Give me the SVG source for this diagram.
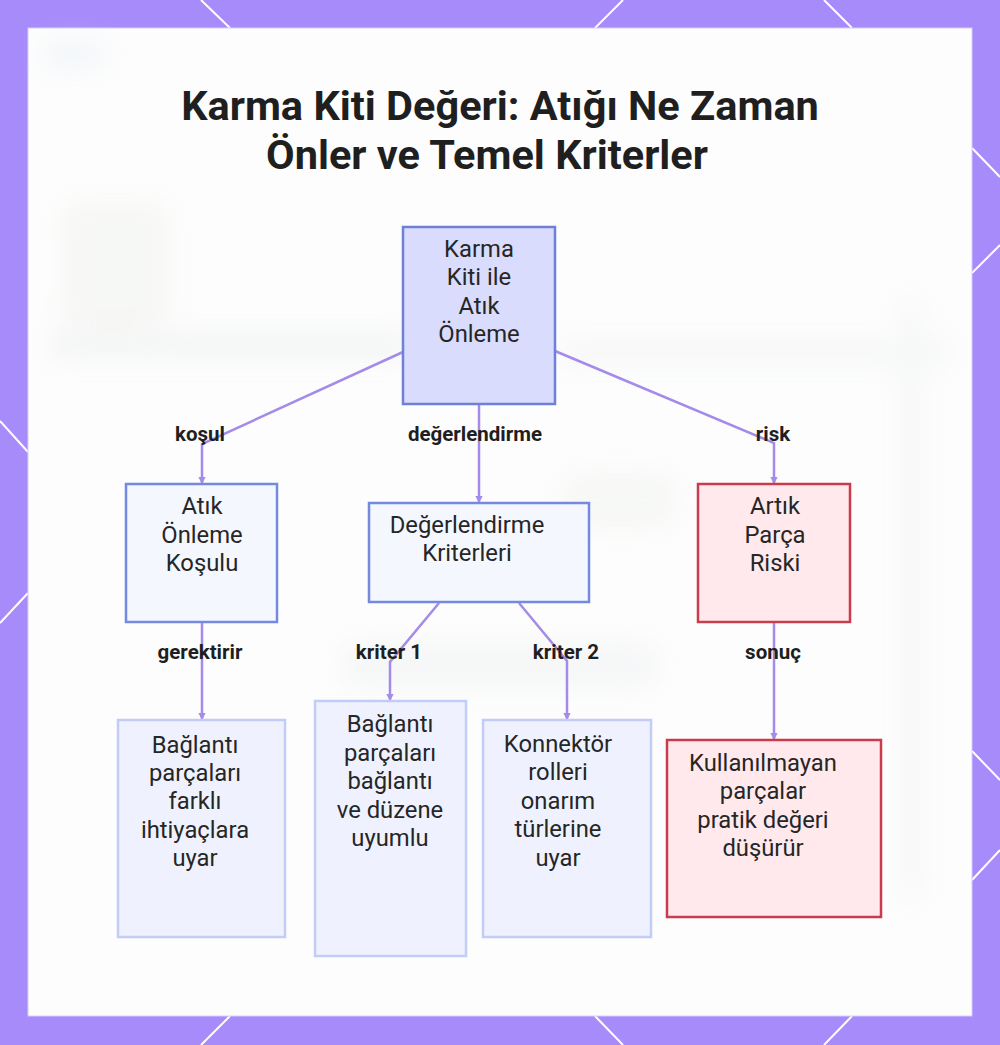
<svg xmlns="http://www.w3.org/2000/svg" width="1000" height="1045" viewBox="0 0 1000 1045">
  <defs>
    <style>
      .title { font-family: Roboto, "Liberation Sans", sans-serif; font-weight: 700; font-size: 41.5px; fill: #1f1f1f; text-anchor: middle; }
      .ntext { font-family: Roboto, "Liberation Sans", sans-serif; font-size: 23.8px; fill: #262626; text-anchor: middle; }
      .elabel { font-family: Roboto, "Liberation Sans", sans-serif; font-weight: 700; font-size: 20.5px; fill: #1f1f1f; text-anchor: middle; }
      .edge { fill: none; stroke: #a48be9; stroke-width: 2.5; marker-end: url(#arrow); }
      .hex { stroke: #ffffff; stroke-width: 2; fill: none; }
      .main { fill: #d9dcfc; stroke: #6e80d8; stroke-width: 2.5; }
      .mid { fill: #f5f7ff; stroke: #7489e0; stroke-width: 2.5; }
      .leaf { fill: #eff2fe; stroke: #c3ccf6; stroke-width: 2.5; }
      .risk { fill: #ffe9ec; stroke: #c93c4d; stroke-width: 2.5; }
    </style>
    <marker id="arrow" viewBox="0 0 6 6" refX="5" refY="3" markerWidth="3" markerHeight="3" orient="auto">
      <path d="M0,0 L6,3 L0,6 Z" fill="#a48be9"/>
    </marker>
    <filter id="blur" x="-50%" y="-50%" width="200%" height="200%">
      <feGaussianBlur stdDeviation="12"/>
    </filter>
  </defs>

  <!-- frame -->
  <rect x="0" y="0" width="1000" height="1045" fill="#a78bfa"/>
  <g class="hex">
    <line x1="201" y1="0" x2="230" y2="28"/>
    <line x1="623" y1="0" x2="595" y2="28"/>
    <line x1="824" y1="0" x2="852" y2="28"/>
    <line x1="230" y1="1016" x2="201" y2="1045"/>
    <line x1="595" y1="1016" x2="623" y2="1045"/>
    <line x1="852" y1="1016" x2="824" y2="1045"/>
    <line x1="0" y1="421" x2="28" y2="452"/>
    <line x1="28" y1="593" x2="0" y2="623"/>
    <line x1="972" y1="148" x2="1000" y2="177"/>
    <line x1="972" y1="273" x2="1000" y2="245"/>
    <line x1="972" y1="751" x2="1000" y2="780"/>
    <line x1="972" y1="880" x2="1000" y2="850"/>
  </g>
  <rect x="28" y="28" width="944" height="988" fill="#fdfdfd" stroke="#d8ccfd" stroke-width="1"/>

  <!-- faint blurred background -->
  <g filter="url(#blur)" opacity="0.4">
    <rect x="50" y="330" width="360" height="30" fill="#e8eaec"/>
    <rect x="60" y="200" width="110" height="130" rx="20" fill="#eef1ea"/>
    <rect x="560" y="340" width="390" height="26" fill="#eceef0"/>
    <rect x="900" y="300" width="22" height="600" fill="#eceef0"/>
    <rect x="560" y="470" width="120" height="60" rx="25" fill="#eef2ec"/>
    <rect x="340" y="640" width="320" height="50" rx="25" fill="#eceef0"/>
    <rect x="45" y="40" width="60" height="30" fill="#e4ecf4"/>
  </g>

  <!-- title -->
  <text class="title" x="500" y="120">Karma Kiti Değeri: Atığı Ne Zaman</text>
  <text class="title" x="487" y="169">Önler ve Temel Kriterler</text>

  <!-- connectors -->
  <g id="connectors">
    <path class="edge" d="M403,352 L202,444 L202,483"/>
    <path class="edge" d="M479,404 L479,502"/>
    <path class="edge" d="M555,351 L774,443 L774,483"/>
    <path class="edge" d="M202,622 L202,719"/>
    <path class="edge" d="M439,603 L390,662 L390,700"/>
    <path class="edge" d="M519,603 L567,661 L567,719"/>
    <path class="edge" d="M774,622 L774,739"/>
    <text class="elabel" x="200" y="441">koşul</text>
    <text class="elabel" x="475" y="441">değerlendirme</text>
    <text class="elabel" x="773" y="441">risk</text>
    <text class="elabel" x="200" y="659">gerektirir</text>
    <text class="elabel" x="389" y="659">kriter 1</text>
    <text class="elabel" x="566" y="659">kriter 2</text>
    <text class="elabel" x="773" y="659">sonuç</text>
  </g>

  <!-- nodes -->
  <g id="node-main">
    <rect class="main" x="403" y="227" width="152" height="177"/>
    <text class="ntext" x="479" y="257">Karma</text>
    <text class="ntext" x="479" y="285">Kiti ile</text>
    <text class="ntext" x="479" y="314">Atık</text>
    <text class="ntext" x="479" y="342">Önleme</text>
  </g>
  <g id="node-kosul">
    <rect class="mid" x="126" y="484" width="151" height="138"/>
    <text class="ntext" x="202" y="514">Atık</text>
    <text class="ntext" x="202" y="543">Önleme</text>
    <text class="ntext" x="202" y="571">Koşulu</text>
  </g>
  <g id="node-kriterler">
    <rect class="mid" x="369" y="503" width="220" height="99"/>
    <text class="ntext" x="467" y="533">Değerlendirme</text>
    <text class="ntext" x="467" y="561">Kriterleri</text>
  </g>
  <g id="node-risk">
    <rect class="risk" x="698" y="484" width="152" height="138"/>
    <text class="ntext" x="775" y="514">Artık</text>
    <text class="ntext" x="775" y="543">Parça</text>
    <text class="ntext" x="775" y="571">Riski</text>
  </g>
  <g id="node-gerektirir">
    <rect class="leaf" x="118" y="720" width="167" height="217"/>
    <text class="ntext" x="195" y="753">Bağlantı</text>
    <text class="ntext" x="195" y="781">parçaları</text>
    <text class="ntext" x="195" y="809">farklı</text>
    <text class="ntext" x="195" y="838">ihtiyaçlara</text>
    <text class="ntext" x="195" y="866">uyar</text>
  </g>
  <g id="node-kriter1">
    <rect class="leaf" x="315" y="701" width="151" height="255"/>
    <text class="ntext" x="390" y="732">Bağlantı</text>
    <text class="ntext" x="390" y="761">parçaları</text>
    <text class="ntext" x="390" y="789">bağlantı</text>
    <text class="ntext" x="390" y="818">ve düzene</text>
    <text class="ntext" x="390" y="846">uyumlu</text>
  </g>
  <g id="node-kriter2">
    <rect class="leaf" x="483" y="720" width="168" height="217"/>
    <text class="ntext" x="558" y="752">Konnektör</text>
    <text class="ntext" x="558" y="780">rolleri</text>
    <text class="ntext" x="558" y="809">onarım</text>
    <text class="ntext" x="558" y="837">türlerine</text>
    <text class="ntext" x="558" y="866">uyar</text>
  </g>
  <g id="node-sonuc">
    <rect class="risk" x="667" y="740" width="214" height="177"/>
    <text class="ntext" x="763" y="771">Kullanılmayan</text>
    <text class="ntext" x="763" y="799">parçalar</text>
    <text class="ntext" x="763" y="828">pratik değeri</text>
    <text class="ntext" x="763" y="856">düşürür</text>
  </g>
</svg>
